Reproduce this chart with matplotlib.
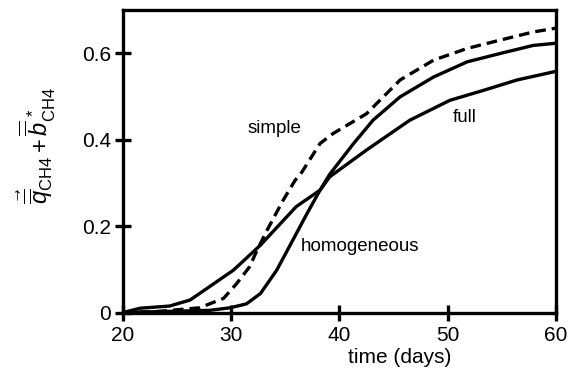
import matplotlib
matplotlib.use("Agg")
import matplotlib.pyplot as plt

plt.rcParams['font.family'] = ['Liberation Sans', 'DejaVu Sans']
plt.rcParams['mathtext.fontset'] = 'custom'
plt.rcParams['mathtext.rm'] = 'Liberation Sans'
plt.rcParams['mathtext.it'] = 'Liberation Sans:italic'

# full (solid, gradual)
full_t = [20, 21.6, 24.3, 26.2, 28.0, 30.2, 32.7, 36.0, 38.2, 39.1, 42.5, 46.5, 50.2, 53.3, 56.4, 60]
full_y = [0.0, 0.01, 0.015, 0.029, 0.06, 0.098, 0.156, 0.245, 0.283, 0.314, 0.376, 0.445, 0.491, 0.514, 0.538, 0.558]

# homogeneous (solid, steep)
homo_t = [20, 28, 29.9, 31.4, 32.7, 34.2, 35.7, 37.0, 38.2, 39.1, 41.3, 43.1, 45.6, 48.7, 51.8, 54.8, 57.9, 60]
homo_y = [0.0, 0.005, 0.011, 0.02, 0.044, 0.098, 0.168, 0.229, 0.283, 0.32, 0.391, 0.445, 0.499, 0.545, 0.58, 0.599, 0.618, 0.623]

# simple (dashed)
simp_t = [20, 23, 27.1, 29.3, 30.5, 31.7, 32.4, 33.3, 34.8, 35.9, 36.4, 38.2, 39.4, 42.5, 45.6, 48.7, 51.8, 54.8, 57.9, 60]
simp_y = [0.0, 0.002, 0.011, 0.033, 0.067, 0.106, 0.145, 0.19, 0.26, 0.306, 0.32, 0.391, 0.414, 0.46, 0.538, 0.584, 0.611, 0.63, 0.649, 0.658]

xticks = [20, 30, 40, 50, 60]
yticks = [0, 0.2, 0.4, 0.6]

fig = plt.figure(figsize=(5.7, 3.83), dpi=100)
ax = fig.add_axes([0.2158, 0.184, 0.7596, 0.79])

ax.plot(full_t, full_y, color='black', lw=2.4, solid_joinstyle='round')
ax.plot(homo_t, homo_y, color='black', lw=2.4, solid_joinstyle='round')
ax.plot(simp_t, simp_y, color='black', lw=2.4, dashes=(3.2, 1.8))

ax.set_xlim(20, 60)
ax.set_ylim(0, 0.7)
ax.set_xticks(xticks)
ax.set_xticklabels([str(v) for v in xticks])
ax.set_yticks(yticks)
ax.set_yticklabels(['0', '0.2', '0.4', '0.6'])

for s in ax.spines.values():
    s.set_linewidth(2.4)
ax.tick_params(direction='inout', length=11, width=2.4, labelsize=15, pad=4)
ax.tick_params(axis='y', pad=3)

ax.set_xlabel('time (days)', fontsize=15)
ax.xaxis.set_label_coords((400 - 123) / 433, -0.118)
ax.set_ylabel(r'$\vec{\overline{\overline{q}}}_{\mathrm{CH4}}+\overline{\overline{b}}^{\,*}_{\mathrm{CH4}}$',
              fontsize=17)
ax.yaxis.set_label_coords(-0.15, 0.55)

ax.text(34.0, 0.425, 'simple', fontsize=13.5, ha='center', va='center')
ax.text(36.4, 0.152, 'homogeneous', fontsize=13.5, ha='left', va='center')
ax.text(51.6, 0.452, 'full', fontsize=13.5, ha='center', va='center')

fig.savefig('out.png', dpi=100)
